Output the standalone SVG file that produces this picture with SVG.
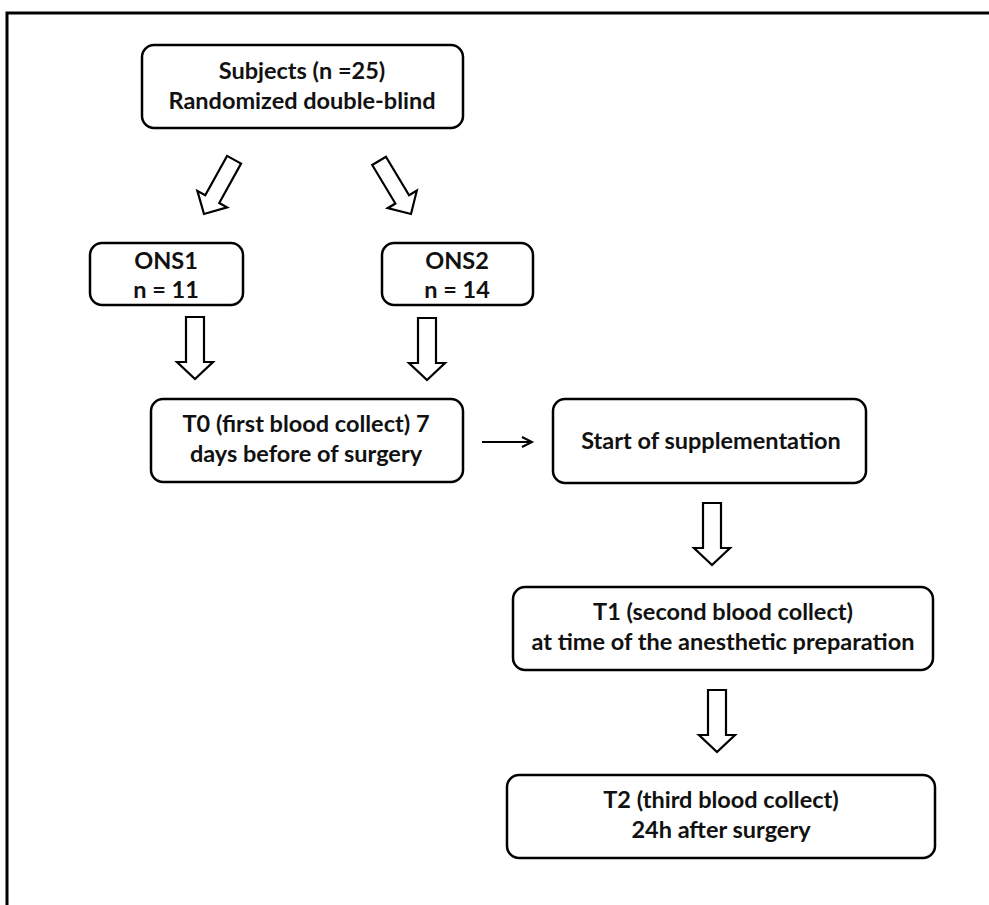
<svg xmlns="http://www.w3.org/2000/svg" width="989" height="905" viewBox="0 0 989 905">
<defs>
<style>
.box{fill:#fff;stroke:#000;stroke-width:2.5}
.blk{fill:#fff;stroke:#000;stroke-width:2.2;stroke-linejoin:miter}
.t{font-family:Lato,"Open Sans","Liberation Sans",sans-serif;font-weight:700;font-size:23.5px;fill:#111;text-anchor:middle}
</style>
<marker id="ah" markerWidth="14" markerHeight="14" refX="11" refY="6" orient="auto" markerUnits="userSpaceOnUse">
<path d="M1,1 L11,6 L1,11" fill="none" stroke="#000" stroke-width="2"/>
</marker>
<path id="varrow" d="M-9,0 h18 v45 h9 l-18,17 l-18,-17 h9 z"/>
<path id="darrow" d="M-8,-62 h16 v45 h9 l-17,17 l-17,-17 h9 z"/>
</defs>
<rect width="989" height="905" fill="#fff"/>
<path d="M7,905 V13 H989" fill="none" stroke="#000" stroke-width="3"/>
<g id="connectors">
<use href="#darrow" class="blk" transform="translate(204,214) rotate(29)"/>
<use href="#darrow" class="blk" transform="translate(411,214) rotate(-31)"/>
<use href="#varrow" class="blk" transform="translate(195,317)"/>
<use href="#varrow" class="blk" transform="translate(427,318)"/>
<line x1="482" y1="442" x2="532" y2="442" stroke="#000" stroke-width="2" marker-end="url(#ah)"/>
<use href="#varrow" class="blk" transform="translate(712,503)"/>
<use href="#varrow" class="blk" transform="translate(717,690)"/>
</g>
<g id="subjects">
<rect class="box" x="142" y="45" width="321" height="83" rx="12"/>
<text class="t" x="302" y="79">Subjects (n =25)</text>
<text class="t" x="302" y="109">Randomized double-blind</text>
</g>
<g id="ons1">
<rect class="box" x="90" y="243" width="153" height="62" rx="12"/>
<text class="t" x="166" y="269">ONS1</text>
<text class="t" x="166" y="298">n = 11</text>
</g>
<g id="ons2">
<rect class="box" x="382" y="243" width="151" height="62" rx="12"/>
<text class="t" x="457" y="269">ONS2</text>
<text class="t" x="457" y="298">n = 14</text>
</g>
<g id="t0">
<rect class="box" x="151" y="399" width="312" height="83" rx="12"/>
<text class="t" x="306" y="432">T0 (first blood collect) 7</text>
<text class="t" x="306" y="462">days before of surgery</text>
</g>
<g id="start">
<rect class="box" x="553" y="399" width="313" height="84" rx="12"/>
<text class="t" x="711" y="449">Start of supplementation</text>
</g>
<g id="t1">
<rect class="box" x="513" y="587" width="420" height="83" rx="12"/>
<text class="t" x="723" y="620">T1 (second blood collect)</text>
<text class="t" x="723" y="650">at time of the anesthetic preparation</text>
</g>
<g id="t2">
<rect class="box" x="507" y="775" width="428" height="83" rx="12"/>
<text class="t" x="721" y="808">T2 (third blood collect)</text>
<text class="t" x="721" y="838">24h after surgery</text>
</g>
</svg>
